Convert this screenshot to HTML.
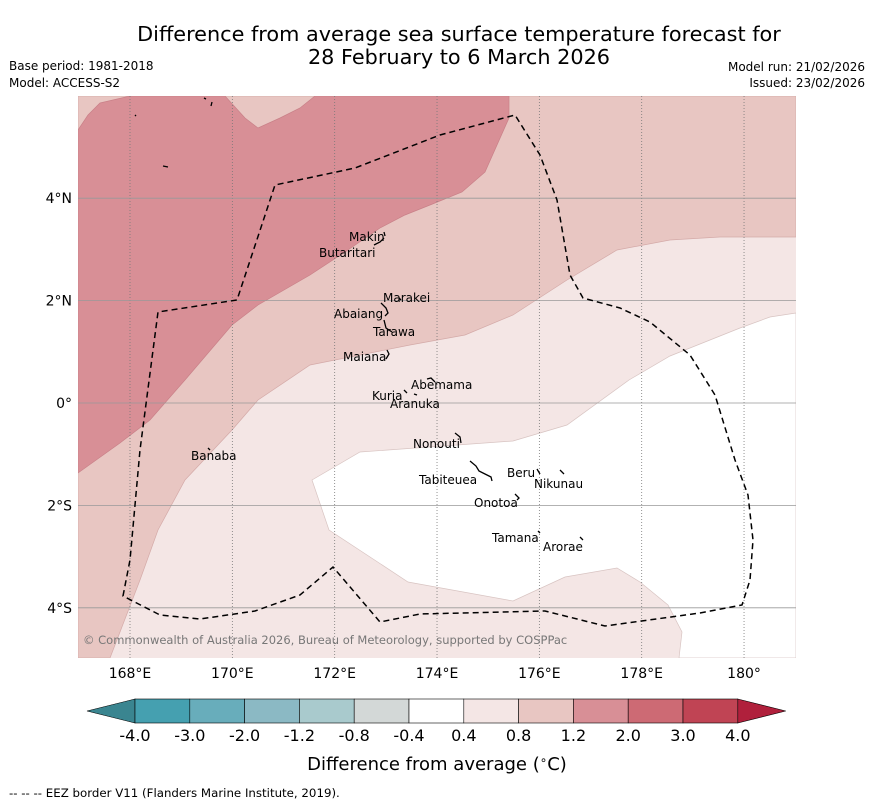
<!DOCTYPE html>
<html><head><meta charset="utf-8"><style>
body{margin:0;background:#fff;width:873px;height:804px;overflow:hidden;font-family:"DejaVu Sans","Liberation Sans",sans-serif}
svg{display:block}
</style></head><body>
<svg width="873" height="804" viewBox="0 0 873 804" font-family="DejaVu Sans, Liberation Sans, sans-serif">
<text x="459" y="41" font-size="20.8" text-anchor="middle">Difference from average sea surface temperature forecast for</text>
<text x="459" y="64" font-size="20.8" text-anchor="middle">28 February to 6 March 2026</text>
<text x="9" y="70" font-size="12">Base period: 1981-2018</text>
<text x="9" y="87" font-size="12">Model: ACCESS-S2</text>
<text x="865" y="71" font-size="12" text-anchor="end">Model run: 21/02/2026</text>
<text x="865" y="87" font-size="12" text-anchor="end">Issued: 23/02/2026</text>

<g>
<clipPath id="clip"><rect x="78" y="96" width="718" height="562"/></clipPath>
<g clip-path="url(#clip)">
<rect x="78" y="96" width="718" height="562" fill="#f4e6e5"/>
<path fill="#ffffff" stroke="#d8c4c2" stroke-width="0.7" d="M312,480 L360,452 L513,441 L567,425 L629,380 L670,356 L740,328 L770,317 L796,313 L796,658 L679,658 L682,632 L668,605 L640,582 L617,568 L565,577 L513,601 L408,582 L329,530 Z"/>
<path fill="#e8c6c2" stroke="#d4aaa8" stroke-width="0.7" d="M78,96 L796,96 L796,237 L720,237 L670,240 L617,250 L567,280 L513,315 L465,335 L410,345 L310,365 L258,400 L232,430 L185,480 L158,530 L140,580 L110,658 L78,658 Z"/>
<path fill="#d88f96" stroke="#c98088" stroke-width="0.7" d="M78,130 L88,115 L100,103 L130,96 L225,96 L245,118 L258,128 L280,118 L300,108 L315,96 L509,96 L509,118 L485,172 L462,192 L430,205 L405,215 L380,228 L345,252 L310,275 L258,305 L232,325 L185,380 L150,420 L120,443 L78,473 Z"/>
</g>
<g id="grid"></g>
<path fill="none" stroke="#000" stroke-width="1.5" stroke-dasharray="6,4" d="M123,596 L130,560 L140,450 L158,312 L237,300 L275,185 L355,168 L440,135 L515,115 L540,155 L557,200 L570,275 L583,298 L620,308 L650,322 L690,355 L715,395 L735,460 L748,495 L753,540 L750,580 L742,605 L700,613 L605,626 L545,611 L420,614 L380,622 L333,567 L300,595 L255,611 L200,619 L160,615 Z"/>
<g fill="none" stroke="#000" stroke-width="1.3">
<path d="M374,245 L380,242 L384,238 M384,232 L385,236"/><path d="M381,303 L386,308 L388,313 L385,316"/><path d="M384,320 L386,328 L392,332"/><path d="M387,350 L389,354 L386,359"/><path d="M427,379 L431,378 L435,382"/><path d="M404,390 L407,393 M414,394 L417,395"/><path d="M455,433 L460,437 L461,443"/><path d="M470,461 L476,466 L479,471 L485,474 L491,477 L492,481"/><path d="M537,469 L540,474 M560,470 L564,474"/><path d="M515,494 L519,498 L517,500"/><path d="M538,531 L540,533 M580,537 L583,540"/><path d="M399,298 L401,300"/><path d="M135,115 L136,116 M163,166 L168,167 M204,98 L206,99 M212,102 L211,106"/><path d="M208,448 L210,450"/>
</g>
<g font-size="12" fill="#000">
<text x="349" y="241">Makin</text><text x="319" y="257">Butaritari</text><text x="383" y="302">Marakei</text><text x="334" y="318">Abaiang</text><text x="373" y="336">Tarawa</text><text x="343" y="361">Maiana</text><text x="411" y="389">Abemama</text><text x="372" y="400">Kuria</text><text x="390" y="408">Aranuka</text><text x="413" y="448">Nonouti</text><text x="191" y="460">Banaba</text><text x="507" y="477">Beru</text><text x="534" y="488">Nikunau</text><text x="419" y="484">Tabiteuea</text><text x="474" y="507">Onotoa</text><text x="492" y="542">Tamana</text><text x="543" y="551">Arorae</text>
</g>
<text x="83" y="644" font-size="11.5" fill="#777">© Commonwealth of Australia 2026, Bureau of Meteorology, supported by COSPPac</text>
</g>
<g id="axes"></g>
<g id="cbar"></g>
<text x="437" y="770" font-size="18" text-anchor="middle">Difference from average (<tspan font-size="12" dy="-6">∘</tspan><tspan dy="6">C)</tspan></text>
<text x="9" y="797" font-size="11.8">-- -- -- EEZ border V11 (Flanders Marine Institute, 2019).</text>
</svg>
<script>
const lonTicks=[168,170,172,174,176,178,180];
const lonLabels=["168°E","170°E","172°E","174°E","176°E","178°E","180°"];
const latTicks=[4,2,0,-2,-4];
const latLabels=["4°N","2°N","0°","2°S","4°S"];
const cbarLevels=["-4.0","-3.0","-2.0","-1.2","-0.8","-0.4","0.4","0.8","1.2","2.0","3.0","4.0"];
const cbarColors=["#45a0b0","#68adbb","#8bb9c4","#a9cacd","#d3d8d7","#ffffff","#f4e6e5","#e8c6c2","#d88f96","#cd6a74","#c04454"];
const cbarLow="#3a8590", cbarHigh="#b0203c";
const NS="http://www.w3.org/2000/svg";
const xLon=l=>130+(l-168)*51.17;
const yLat=l=>403-l*51.2;
function mk(t,a,p){const e=document.createElementNS(NS,t);for(const k in a)e.setAttribute(k,a[k]);p.appendChild(e);return e;}
const grid=document.getElementById('grid'),axes=document.getElementById('axes'),cb=document.getElementById('cbar');
lonTicks.forEach((l,i)=>{const x=xLon(l);
 const g=mk('line',{x1:x,x2:x,y1:96,y2:658,stroke:'#777','stroke-width':0.8,'stroke-dasharray':'1,2'},grid);
 
 
 const t=mk('text',{x:x,y:678,'font-size':14,'text-anchor':'middle'},axes);t.textContent=lonLabels[i];
 
 
});
latTicks.forEach((l,i)=>{const y=yLat(l);
 const g=mk('line',{x1:78,x2:796,y1:y,y2:y,stroke:'#999','stroke-width':0.8},grid);
 
 
 const t=mk('text',{x:72,y:y+5,'font-size':14,'text-anchor':'end'},axes);t.textContent=latLabels[i];
 
 
});
const cx0=135,cw=54.8,cy=699,ch=24;
const tl=mk('polygon',{points:`87,${cy+ch/2} ${cx0},${cy} ${cx0},${cy+ch}`,fill:cbarLow,stroke:'#000','stroke-width':0.6},cb);


cbarColors.forEach((c,i)=>{
 const r=mk('rect',{x:cx0+i*cw,y:cy,width:cw,height:ch,fill:c,stroke:'#000','stroke-width':0.6},cb);
 
 
});
const xe=cx0+cbarColors.length*cw;
const th=mk('polygon',{points:`${xe},${cy} ${xe+48},${cy+ch/2} ${xe},${cy+ch}`,fill:cbarHigh,stroke:'#000','stroke-width':0.6},cb);


cbarLevels.forEach((v,i)=>{
 const t=mk('text',{x:cx0+i*cw,y:741,'font-size':16,'text-anchor':'middle'},cb);t.textContent=v;
 
 
});
</script>
</body></html>
